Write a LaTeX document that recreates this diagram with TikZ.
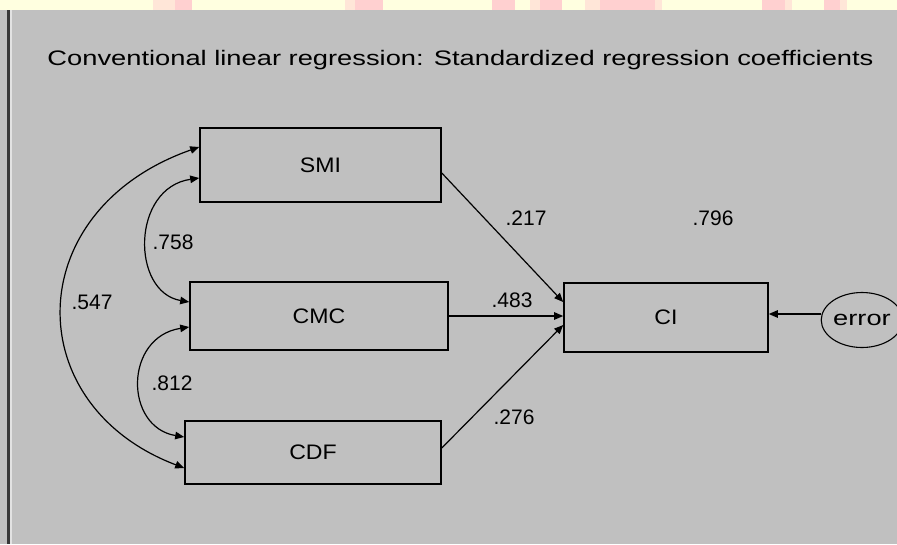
\documentclass[tikz,border=0pt]{standalone}
\usepackage{fontspec}
\setmainfont{Liberation Sans}
\newfontfamily\widefont{Liberation Sans}[FakeStretch=1.30]
\newfontfamily\capfont{Liberation Sans}[FakeStretch=1.10]
\usetikzlibrary{arrows.meta,shapes.geometric}
\definecolor{bggray}{HTML}{C0C0C0}
\definecolor{stripyellow}{HTML}{FFFFE0}
\definecolor{stripspink}{HTML}{FFD0D0}
\definecolor{stripslight}{HTML}{FFE6D8}
\definecolor{borderdark}{HTML}{383838}
\definecolor{borderlight}{HTML}{E2E2E2}
\tikzset{
  varbox/.style={draw=black, line width=1.6pt, rectangle, inner sep=0pt, font=\capfont\fontsize{21}{25}\selectfont},
  errnode/.style={draw=black, line width=1.1pt, ellipse, inner sep=0pt, minimum width=80pt, minimum height=55pt, font=\widefont\fontsize{21}{25}\selectfont},
  numlab/.style={font=\fontsize{21}{25}\selectfont, inner sep=0pt},
  ahead/.tip={Triangle[length=9pt,width=7.5pt]},
  conn/.style={draw=black, line width=1.2pt, -ahead},
  cov/.style={draw=black, line width=1.2pt, ahead-ahead},
}
\begin{document}
\begin{tikzpicture}[x=1pt,y=-1pt]
\clip (0,0) rectangle (897,544);
\fill[bggray] (0,0) rectangle (897,544);
% top strip
\fill[stripyellow] (0,0) rectangle (897,10);
\fill[stripslight] (153,0) rectangle (175,10);
\fill[stripspink] (175,0) rectangle (192,10);
\fill[stripslight] (345,0) rectangle (355,10);
\fill[stripspink] (355,0) rectangle (383,10);
\fill[stripspink] (492,0) rectangle (515,10);
\fill[stripslight] (530,0) rectangle (540,10);
\fill[stripspink] (540,0) rectangle (562,10);
\fill[stripslight] (585,0) rectangle (600,10);
\fill[stripspink] (600,0) rectangle (655,10);
\fill[stripslight] (655,0) rectangle (662,10);
\fill[stripspink] (762,0) rectangle (785,10);
\fill[stripslight] (785,0) rectangle (792,10);
\fill[stripspink] (824,0) rectangle (840,10);
\fill[stripslight] (840,0) rectangle (847,10);
% left border
\fill[borderdark] (7,10) rectangle (10,544);
\fill[borderlight] (10,10) rectangle (12,544);

% title
\node[font=\widefont\fontsize{21}{25}\selectfont, anchor=base, inner sep=0pt] (title) at (460.5,65)
  {Conventional linear regression: Standardized regression coefficients};

% variables
\node[varbox, minimum width=241pt, minimum height=74pt] (smi) at (320.5,165) {SMI};
\node[varbox, minimum width=258pt, minimum height=68pt] (cmc) at (319,316) {CMC};
\node[varbox, minimum width=256pt, minimum height=63pt] (cdf) at (313,452.5) {CDF};
\node[varbox, minimum width=204pt, minimum height=69pt] (ci) at (666,317.5) {CI};
\node[errnode] (err) at (862,320) {error};

% regression paths
\draw[conn] ([yshift=-8pt]smi.east) -- ([yshift=15.5pt]ci.west);
\draw[conn] (cmc.east) -- (cmc.east -| ci.west);
\draw[conn] ([yshift=4.5pt]cdf.east) -- ([yshift=-7.5pt]ci.west);
\draw[conn] ([yshift=6pt]err.west) -- ([yshift=6pt]err.west -| ci.east);

% covariances
\draw[cov] ([yshift=-13pt]smi.west) .. controls (131,188) and (131,292) .. ([yshift=14pt]cmc.west);
\draw[cov] ([yshift=18pt]smi.west) .. controls (20,210) and (18,405) .. ([yshift=-15.5pt]cdf.west);
\draw[cov] ([yshift=-11pt]cmc.west) .. controls (124,337) and (124,427) .. ([yshift=15.5pt]cdf.west);

% labels
\node[numlab] (l217) at (526,218) {.217};
\node[numlab] (l796) at (713,218) {.796};
\node[numlab] (l483) at (512,300) {.483};
\node[numlab] (l276) at (514,417) {.276};
\node[numlab] (l758) at (173,242) {.758};
\node[numlab] (l547) at (92,302) {.547};
\node[numlab] (l812) at (172,383) {.812};
\end{tikzpicture}
\end{document}
